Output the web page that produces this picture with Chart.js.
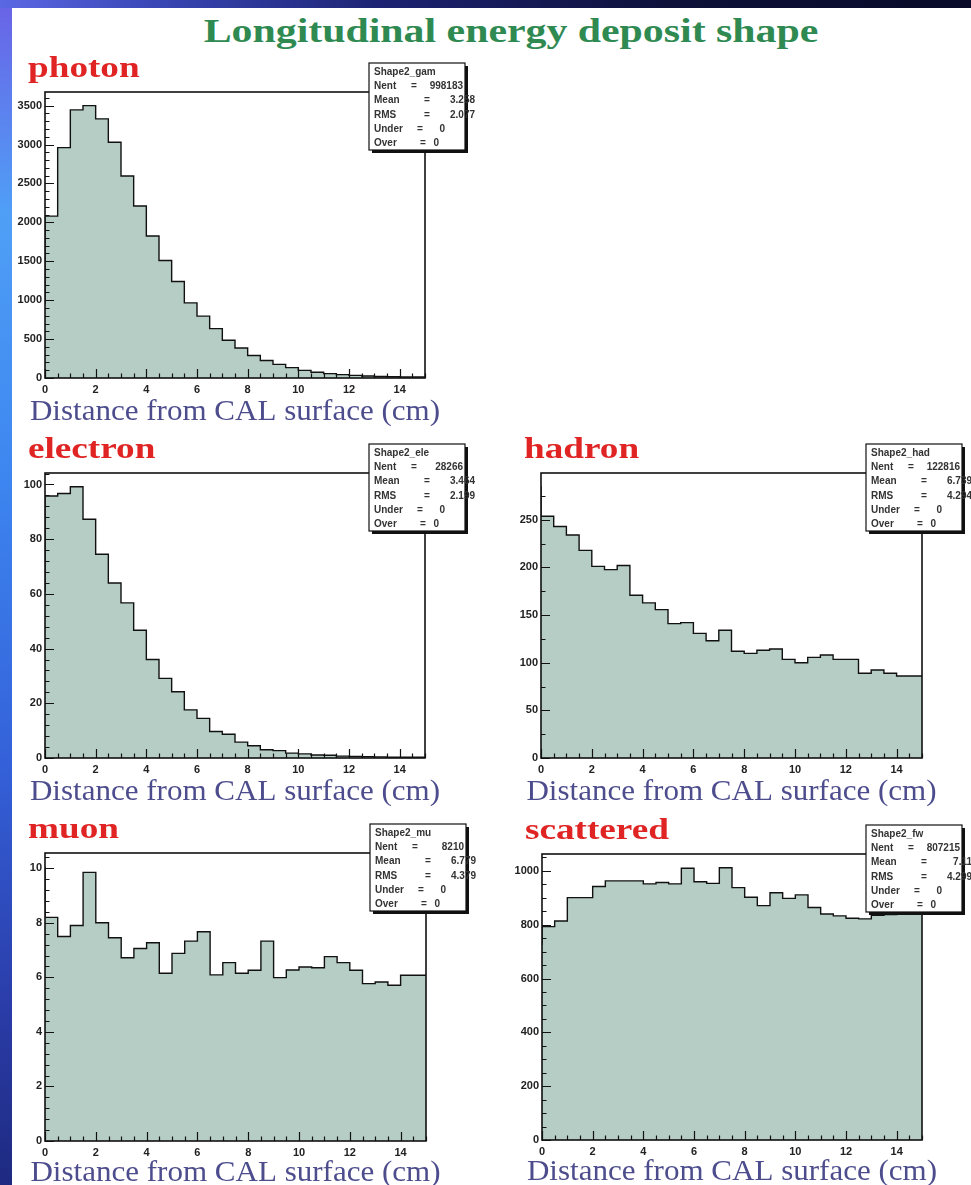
<!DOCTYPE html>
<html>
<head>
<meta charset="utf-8">
<script src="https://cdn.jsdelivr.net/npm/chart.js@4.4.0/dist/chart.umd.min.js"></script>
<style>
  body { margin: 0; width: 971px; height: 1185px; background: #fff; position: relative; overflow: hidden; }
  #leftbar { position: absolute; left: 0; top: 0; width: 12px; height: 1185px;
    background: linear-gradient(to bottom, #6a62e6 0%, #4f9ff6 18%, #3d86f0 40%, #3460d8 65%, #2a3ca8 85%, #1e2a80 100%); }
  #topbar { position: absolute; left: 0; top: 0; width: 971px; height: 8px;
    background: linear-gradient(to right, #5b68e4 0%, #3a48b8 15%, #1c2270 40%, #0d1038 70%, #080a28 100%); }
  #title { position: absolute; left: 0; width: 1022px; top: 11px; text-align: center;
    font: bold 34px 'Liberation Serif', serif; color: #2f8a52; line-height: 40px;
    transform: scaleX(1.23); transform-origin: 511px 20px; }
  .pname { position: absolute; font: bold 30px 'Liberation Serif', serif; color: #e02424;
    line-height: 30px; transform: scaleX(1.24); transform-origin: left center; }
  canvas { position: absolute; }
</style>
</head>
<body>
<div id="leftbar"></div>
<div id="topbar"></div>
<div id="title">Longitudinal energy deposit shape</div>

<script>
// bin edges (cm) shared by every histogram
const binEdges = [0, 0.5, 1, 1.5, 2, 2.5, 3, 3.5, 4, 4.5, 5, 5.5, 6, 6.5, 7, 7.5,
  8, 8.5, 9, 9.5, 10, 10.5, 11, 11.5, 12, 12.5, 13, 13.5, 14, 14.5, 15];
const xTickLabels = [0, 2, 4, 6, 8, 10, 12, 14];
const xTitle = 'Distance from CAL surface (cm)';

const photonCounts = [950, 2080, 2960, 3445, 3500, 3330, 3030, 2595, 2210, 1825, 1510, 1240,
  965, 795, 635, 485, 385, 290, 225, 175, 133, 98, 73, 56, 43, 34, 26, 20, 16, 12];
const electronCounts = [60.6, 95.8, 96.7, 99.2, 87.3, 74.5, 64, 56.7, 46.7, 36, 29.1, 24.2,
  17.6, 14.5, 9.7, 8.7, 5.8, 4.5, 3, 2.7, 1.8, 1.5, 1.1, 1.0, 0.7, 0.6, 0.5, 0.4, 0.3, 0.3];
const hadronCounts = [285, 253.7, 242.9, 234, 217.8, 201, 197.6, 202, 170.7, 162.7, 155.7, 141,
  142, 130.7, 123, 134, 112, 109.8, 113, 114.3, 103.5, 100, 105.6, 108, 103.5, 103.5, 88.9, 92.3, 88.9, 86];
const muonCounts = [10.06, 8.2, 7.5, 7.9, 9.85, 8.0, 7.45, 6.72, 7.06, 7.27, 6.15, 6.88,
  7.33, 7.67, 6.09, 6.54, 6.15, 6.26, 7.33, 5.99, 6.27, 6.38, 6.35, 6.76, 6.54, 6.26, 5.77, 5.83, 5.71, 6.08];
const scatteredCounts = [725, 793, 814, 901, 901, 942, 963, 963, 963, 952, 957, 952,
  1010, 960, 954, 1012, 938, 902, 871, 919, 898, 911, 864, 840, 833, 824, 822, 835, 838, 845];

const photonYTicks = [0, 500, 1000, 1500, 2000, 2500, 3000, 3500];
const electronYTicks = [0, 20, 40, 60, 80, 100];
const hadronYTicks = [0, 50, 100, 150, 200, 250];
const muonYTicks = [0, 2, 4, 6, 8, 10];
const scatteredYTicks = [0, 200, 400, 600, 800, 1000];

const photonStats = [['Shape2_gam', ''], ['Nent', '998183'], ['Mean', '3.258'], ['RMS', '2.077'], ['Under', '0'], ['Over', '0']];
const electronStats = [['Shape2_ele', ''], ['Nent', '28266'], ['Mean', '3.464'], ['RMS', '2.199'], ['Under', '0'], ['Over', '0']];
const hadronStats = [['Shape2_had', ''], ['Nent', '122816'], ['Mean', '6.739'], ['RMS', '4.294'], ['Under', '0'], ['Over', '0']];
const muonStats = [['Shape2_mu', ''], ['Nent', '8210'], ['Mean', '6.779'], ['RMS', '4.379'], ['Under', '0'], ['Over', '0']];
const scatteredStats = [['Shape2_fw', ''], ['Nent', '807215'], ['Mean', '7.11'], ['RMS', '4.299'], ['Under', '0'], ['Over', '0']];

const fillColor = '#b5cdc5';
const axisFont = { family: 'Liberation Sans', size: 11, weight: 'bold' };

// ROOT style frame, inner ticks, axis title and the stats box
const rootFrame = {
  id: 'rootFrame',
  afterDatasetsDraw(chart, args, opts) {
    const ctx = chart.ctx, a = chart.chartArea;
    const xs = chart.scales.x, ys = chart.scales.y;
    ctx.save();
    ctx.strokeStyle = '#111';
    ctx.lineWidth = 1.2;
    ctx.beginPath();
    for (let v = 0; v <= 15.001; v += 0.5) {
      const px = Math.round(xs.getPixelForValue(v)) + 0.5;
      const len = Math.abs(v % 2) < 0.01 ? 9 : 4.5;
      ctx.moveTo(px, a.bottom); ctx.lineTo(px, a.bottom - len);
    }
    for (let v = 0; v <= ys.max + 1e-9; v += opts.minor) {
      const py = Math.round(ys.getPixelForValue(v)) + 0.5;
      const r = v / opts.major;
      const len = Math.abs(r - Math.round(r)) < 0.01 ? 9 : 4.5;
      ctx.moveTo(a.left, py); ctx.lineTo(a.left + len, py);
    }
    ctx.stroke();
    ctx.lineWidth = 1.6;
    ctx.strokeRect(a.left, a.top, a.right - a.left, a.bottom - a.top);

    // x axis title, slightly stretched like the slide
    ctx.translate((a.left + a.right) / 2, a.bottom + opts.titleOffset);
    ctx.scale(1.07, 1);
    ctx.font = '29px "Liberation Serif"';
    ctx.fillStyle = '#4d4d8e';
    ctx.textAlign = 'center';
    ctx.textBaseline = 'alphabetic';
    ctx.fillText(opts.title, 0, 0);
    ctx.restore();
  },
  afterDraw(chart, args, opts) {
    const ctx = chart.ctx, a = chart.chartArea;
    const bx = a.right - 56, by = a.top - 29, bw = 96, bh = 87;
    ctx.save();
    ctx.fillStyle = '#111';
    ctx.fillRect(bx + 3, by + 3, bw, bh);
    ctx.fillStyle = '#fff';
    ctx.fillRect(bx, by, bw, bh);
    ctx.strokeStyle = '#111';
    ctx.lineWidth = 1.2;
    ctx.strokeRect(bx, by, bw, bh);
    ctx.fillStyle = '#333';
    ctx.font = 'bold 10px "Liberation Sans"';
    ctx.textBaseline = 'middle';
    const eqX = [0, 42, 55, 55, 48, 51];
    const valR = [0, 94, 106, 106, 76, 70];
    opts.lines.forEach((ln, i) => {
      const y = by + 9 + i * 14.3;
      ctx.textAlign = 'left';
      ctx.fillText(ln[0], bx + 5, y);
      if (i > 0) {
        ctx.fillText('=', bx + eqX[i], y);
        ctx.textAlign = 'right';
        ctx.fillText(ln[1], bx + valR[i], y);
      }
    });
    ctx.restore();
  }
};

function makePanel(frame, name, counts, stats, yTicks, yMax, yMinor, titleOffset) {
  const [fl, ft, fw, fh] = frame;
  const cv = document.createElement('canvas');
  cv.width = 40 + fw + 50;
  cv.height = 34 + fh + 60;
  cv.style.left = (fl - 40) + 'px';
  cv.style.top = (ft - 34) + 'px';
  document.body.appendChild(cv);

  const lbl = document.createElement('div');
  lbl.className = 'pname';
  lbl.textContent = name;
  lbl.style.left = (fl - 17) + 'px';
  lbl.style.top = (ft - 40) + 'px';
  document.body.appendChild(lbl);

  // step outline: each edge carries the height of the bin that starts there
  const pts = binEdges.map((e, i) => ({ x: e, y: counts[Math.min(i, counts.length - 1)] }));

  return new Chart(cv.getContext('2d'), {
    type: 'line',
    data: {
      datasets: [{
        data: pts,
        stepped: 'after',
        fill: 'origin',
        backgroundColor: fillColor,
        borderColor: '#111',
        borderWidth: 1.4,
        pointRadius: 0,
      }],
    },
    options: {
      responsive: false,
      animation: false,
      devicePixelRatio: 1,
      layout: { padding: { left: 0, top: 34, right: 50, bottom: 0 } },
      plugins: {
        legend: { display: false },
        tooltip: { enabled: false },
        rootFrame: { lines: stats, major: yTicks[1] - yTicks[0], minor: yMinor, title: xTitle, titleOffset },
      },
      scales: {
        x: {
          type: 'linear', min: 0, max: 15,
          grid: { display: false, drawTicks: false },
          border: { display: false },
          afterBuildTicks: s => { s.ticks = xTickLabels.map(v => ({ value: v })); },
          ticks: { font: axisFont, color: '#222', padding: 5, maxRotation: 0, callback: v => String(v) },
          afterFit: s => { s.height = 60; },
        },
        y: {
          min: 0, max: yMax,
          grid: { display: false, drawTicks: false },
          border: { display: false },
          afterBuildTicks: s => { s.ticks = yTicks.map(v => ({ value: v })); },
          ticks: { font: axisFont, color: '#222', padding: 3, callback: v => String(v) },
          afterFit: s => { s.width = 40; },
        },
      },
    },
    plugins: [rootFrame],
  });
}

makePanel([45, 92, 380, 286], 'photon', photonCounts, photonStats, photonYTicks, 3675, 100, 42);
makePanel([45, 473, 380, 285], 'electron', electronCounts, electronStats, electronYTicks, 104.2, 4, 42);
makePanel([541, 473, 381, 285], 'hadron', hadronCounts, hadronStats, hadronYTicks, 299, 25, 42);
makePanel([45, 853, 381, 288], 'muon', muonCounts, muonStats, muonYTicks, 10.56, 0.4, 40);
makePanel([542, 854, 380, 286], 'scattered', scatteredCounts, scatteredStats, scatteredYTicks, 1063, 50, 40);
</script>
</body>
</html>
